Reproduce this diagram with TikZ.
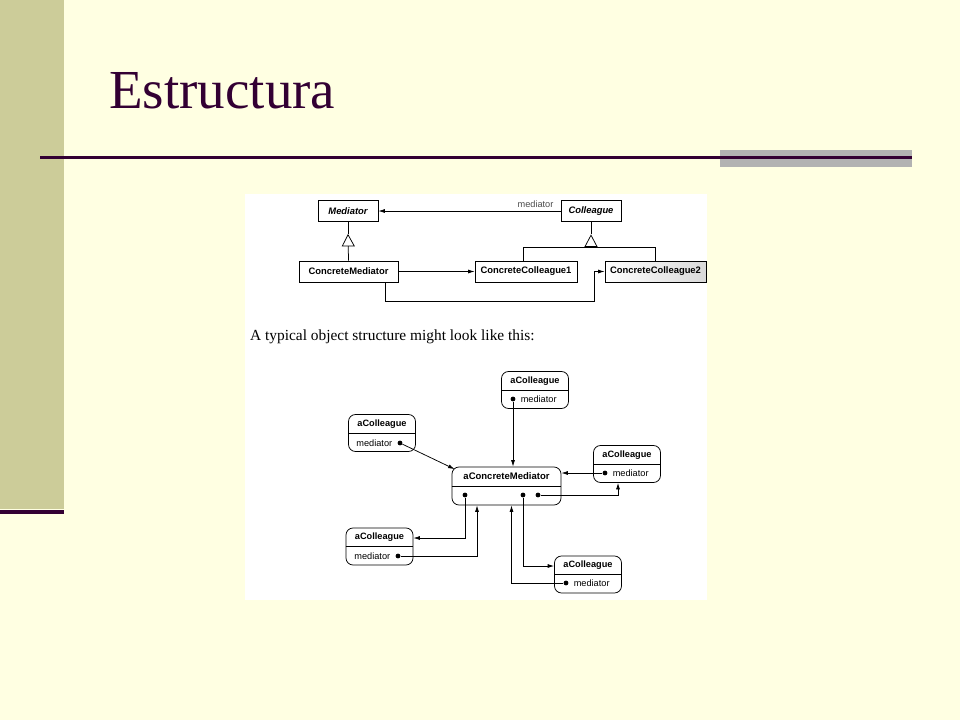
\documentclass[tikz,border=0pt]{standalone}
\usepackage{fontspec}
\setmainfont{Liberation Serif}
\setsansfont{Liberation Sans}
\usepackage{tikz}
\usetikzlibrary{calc,positioning,arrows.meta}

\definecolor{slidebg}{RGB}{255,255,226}
\definecolor{slidebar}{RGB}{204,204,153}
\definecolor{slideink}{RGB}{51,0,51}
\definecolor{slidegray}{RGB}{178,178,178}

\begin{document}
\begin{tikzpicture}[x=1pt,y=-1pt,
    cls/.style={draw, line width=0.75pt, fill=white, inner sep=0pt,
        minimum height=21pt, font=\sffamily\bfseries\fontsize{9.4}{11}\selectfont},
    abstractcls/.style={cls, font=\sffamily\bfseries\itshape\fontsize{9.4}{11}\selectfont},
    objbox/.style={draw, line width=0.75pt, rounded corners=7pt,
        minimum width=67pt, minimum height=37pt, inner sep=0pt},
    objname/.style={inner sep=0pt, font=\sffamily\bfseries\fontsize{9.2}{10}\selectfont},
    attr/.style={inner sep=0pt, font=\sffamily\fontsize{9.2}{10}\selectfont},
    dot/.style={circle, fill, inner sep=0pt, minimum size=4.8pt},
    conn/.style={line width=0.75pt, -{Latex[length=6.5pt,width=4pt]}},
    gen/.style={line width=0.75pt, -{Triangle[open,length=12.5pt,width=13pt]}}
]
% Slide background
\useasboundingbox (0,0) rectangle (960,720);
\fill[slidebg] (0,0) rectangle (960,720);
\fill[slidebar] (0,0) rectangle (64,509);
\fill[slideink] (0,510) rectangle (64,514);
\fill[slidegray] (720,150) rectangle (912,167);
\draw[slideink, line width=3pt] (40,157) -- (912,157);
\node[anchor=base west, inner sep=0pt, text=slideink,
    font=\fontsize{55}{60}\selectfont] (title) at (109,108) {Estructura};

% Figure area
\fill[white] (245,194) rectangle (707,600);

% Class diagram
\node[abstractcls, minimum width=60pt] (med) at (348,211) {Mediator};
\node[abstractcls, minimum width=60pt] (col) at (591,211) {Colleague};
\node[cls, minimum width=99pt] (cmed) at (348.5,271.5) {ConcreteMediator};
\node[cls, minimum width=102pt] (ccol1) at (526,271.5) {ConcreteColleague1};
\node[cls, minimum width=101pt, left color=white, right color=gray!30] (ccol2) at (655.5,271.5) {ConcreteColleague2};

\draw[conn] (col.west) -- (med.east);
\node[attr, text=black!70, above left=3pt and 7pt of col.west] (rolename) {mediator};

\coordinate (medTip) at ($(med.south)+(0,12)$);
\draw[line width=0.75pt] (med.south) -- (medTip);
\draw[gen] (cmed.north) -- (medTip);

\coordinate (colTip) at ($(col.south)+(0,12.5)$);
\coordinate (colBase) at ($(colTip)+(0,12.5)$);
\draw[line width=0.75pt] (col.south) -- (colTip);
\draw[gen] (colBase) -- (colTip);
\draw[line width=0.75pt] ($(ccol1.north)+(-3,0)$) |- (colBase) -| (ccol2.north);

\draw[conn] (cmed.east) -- (ccol1.west);
\draw[conn] ($(cmed.south)+(36.5,0)$) -- ++(0,19) -| ($(ccol2.west)+(-10,0)$) -- (ccol2.west);

% Caption
\node[anchor=base west, inner sep=0pt, font=\fontsize{15.4}{17}\selectfont] (caption) at (250,340)
    {A typical object structure might look like this:};

% Object diagram
\foreach \n/\x/\y in {cT/535/390, cL/382/433, cR/627/464, cBL/379.5/546.5, cBR/588/574.5}{
    \node[objbox] (\n) at (\x,\y) {};
    \draw[line width=0.75pt] (\n.west) -- (\n.east);
    \node[objname] (\n-name) at ($(\n.center)+(0,-9)$) {aColleague};
}
\node[objbox, minimum width=109pt, minimum height=38pt] (aCM) at (506.5,486) {};
\draw[line width=0.75pt] (aCM.west) -- (aCM.east);
\node[objname, font=\sffamily\bfseries\fontsize{9.5}{10}\selectfont] (aCM-name) at ($(aCM.center)+(0,-9.5)$) {aConcreteMediator};

% Mediator references
\node[dot] (cT-dot) at ($(cT.center)+(-22,9)$) {};
\node[attr, right=5pt of cT-dot] (cT-attr) {mediator};
\node[dot] (cR-dot) at ($(cR.center)+(-22,9)$) {};
\node[attr, right=5pt of cR-dot] (cR-attr) {mediator};
\node[dot] (cBR-dot) at ($(cBR.center)+(-22,8.5)$) {};
\node[attr, right=5pt of cBR-dot] (cBR-attr) {mediator};
\node[dot] (cL-dot) at ($(cL.center)+(18,10)$) {};
\node[attr, left=5pt of cL-dot] (cL-attr) {mediator};
\node[dot] (cBL-dot) at ($(cBL.center)+(18.5,9.5)$) {};
\node[attr, left=5pt of cBL-dot] (cBL-attr) {mediator};

\node[dot] (aCM-dot1) at ($(aCM.center)+(-41.5,9)$) {};
\node[dot] (aCM-dot2) at ($(aCM.center)+(16.5,9)$) {};
\node[dot] (aCM-dot3) at ($(aCM.center)+(31.5,9)$) {};

% Connections
\draw[conn] (cL-dot) -- ($(aCM.north west)+(3,2.5)$);
\draw[conn] (cT-dot) -- (cT-dot |- aCM.north);
\draw[conn] (cR-dot) -- (cR-dot -| aCM.east);
\draw[conn] (aCM-dot3) -| ($(cR.south)+(-9,0)$);
\draw[conn] (aCM-dot1) |- ($(cBL.east)+(0,-8.5)$);
\draw[conn] (cBL-dot) -| ($(aCM.south)+(-29.5,0)$);
\draw[conn] (aCM-dot2) |- ($(cBR.west)+(0,-8.5)$);
\draw[conn] (cBR-dot) -| ($(aCM.south)+(5,0)$);

\end{tikzpicture}
\end{document}
